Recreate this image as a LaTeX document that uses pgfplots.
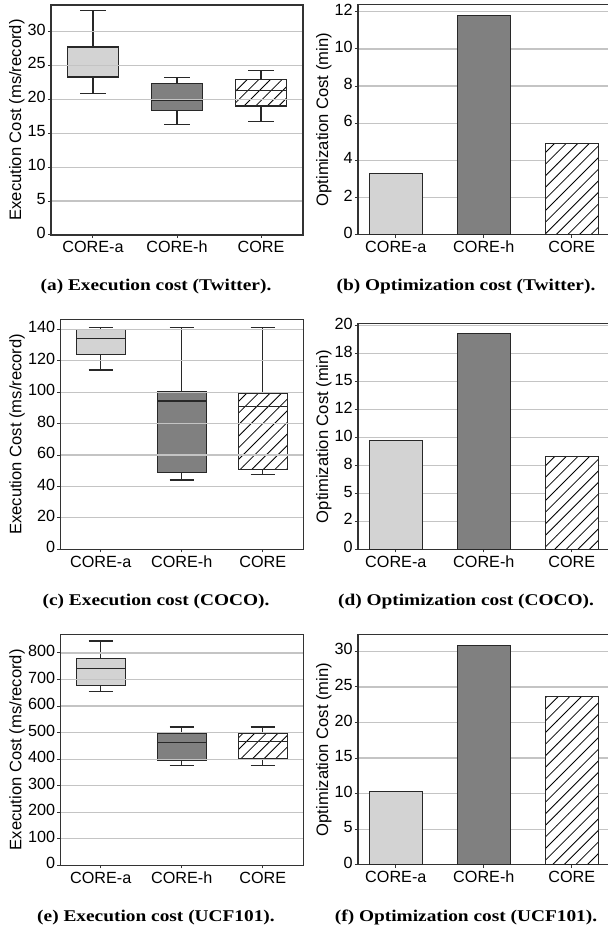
\documentclass[border=0pt]{standalone}
\usepackage{fontspec}
\setmainfont{Liberation Serif}
\newfontfamily\chartfont{Liberation Sans}
\newfontfamily\capfont[FakeStretch=1.18]{Liberation Serif}
\usepackage{pgfplots}
\pgfplotsset{compat=1.18}
\usetikzlibrary{patterns}

\definecolor{axc}{HTML}{333333}
\definecolor{gridc}{HTML}{C4C4C4}
\definecolor{lightfill}{HTML}{D3D3D3}
\definecolor{darkfill}{HTML}{808080}
\definecolor{edgec}{HTML}{282828}

% north-east hatching
\pgfdeclarepatternformonly{widene}{\pgfqpoint{-1pt}{-1pt}}{\pgfqpoint{7pt}{7pt}}{\pgfqpoint{5.8pt}{5.8pt}}{%
  \pgfsetlinewidth{0.4pt}%
  \pgfpathmoveto{\pgfqpoint{0pt}{0pt}}%
  \pgfpathlineto{\pgfqpoint{5.9pt}{5.9pt}}%
  \pgfusepath{stroke}}
\tikzset{hatch/.style={fill=white, postaction={pattern=widene}}}

\pgfplotsset{
  panel/.style={
    scale only axis, anchor=south west, ymin=0,
    /pgf/number format/assume math mode=true,
    ticklabel style={font=\chartfont\fontsize{8.1}{9}\selectfont},
    yticklabel style={xshift=2.5pt},
    xticklabel style={yshift=2.5pt},
    typeset ticklabels with strut,
    ylabel style={font=\chartfont\fontsize{8.3}{9}\selectfont, anchor=center},
    axis line style={draw=axc, line width=0.6pt},
    ymajorgrids, grid style={draw=gridc, line width=0.6pt},
    tick style={draw=axc, line width=0.5pt},
    major tick length=1.6pt, tick align=outside,
    xtick pos=bottom, ytick pos=left,
    xtick={0,1,2}, xticklabels={CORE-a,CORE-h,CORE},
    unbounded coords=jump,
  },
  % box plots: the grid is drawn over the boxes
  boxpanel/.style={panel, axis on top, xmin=-0.5, xmax=2.5, width=121.5pt, height=115pt,
    ylabel={Execution Cost (ms/record)},
    ylabel style={at={(axis description cs:-0.178,0.5)}}},
  barpanel/.style={panel, xmin=-0.43, xmax=2.45, width=126.7pt,
    ylabel={Optimization Cost (min)},
    ylabel style={at={(axis description cs:-0.135,0.5)}}},
  bx/.style={draw=edgec, line width=0.6pt, solid, mark=none},
  br/.style={ybar, bar shift=0pt, bar width=0.6, draw=edgec, line width=0.6pt},
}

\begin{document}
\begin{tikzpicture}
\path[use as bounding box] (0,0) rectangle (304pt,465pt);

% (a) execution cost, Twitter
\begin{axis}[boxpanel, at={(25.5pt,347.5pt)}, width=126pt, ymax=33.9,
  ytick={0,5,...,30}, ylabel style={at={(axis description cs:-0.136,0.5)}}]
% whiskers (lower, upper, caps)
\addplot[bx] coordinates {(0,20.9)(0,23.3) (0,nan) (0,27.7)(0,33.1) (0,nan)
  (-0.15,20.9)(0.15,20.9) (0,nan) (-0.15,33.1)(0.15,33.1)};
\addplot[bx] coordinates {(1,16.3)(1,18.4) (1,nan) (1,22.3)(1,23.2) (1,nan)
  (0.85,16.3)(1.15,16.3) (1,nan) (0.85,23.2)(1.15,23.2)};
\addplot[bx] coordinates {(2,16.7)(2,19.0) (2,nan) (2,22.9)(2,24.3) (2,nan)
  (1.85,16.7)(2.15,16.7) (2,nan) (1.85,24.3)(2.15,24.3)};
% boxes
\addplot[bx, fill=lightfill] coordinates {(-0.3,23.3)(0.3,23.3)(0.3,27.7)(-0.3,27.7)} -- cycle;
\addplot[bx, fill=darkfill] coordinates {(0.7,18.4)(1.3,18.4)(1.3,22.3)(0.7,22.3)} -- cycle;
\addplot[bx, hatch] coordinates {(1.7,19.0)(2.3,19.0)(2.3,22.9)(1.7,22.9)} -- cycle;
% medians
\addplot[bx] coordinates {(-0.3,25.0)(0.3,25.0) (0,nan) (0.7,19.9)(1.3,19.9) (1,nan) (1.7,21.35)(2.3,21.35)};
\end{axis}

% (b) optimization cost, Twitter
\begin{axis}[barpanel, at={(179pt,347.65pt)}, height=115pt, ymax=12.38,
  ytick={0,2,...,12}]
\addplot[br, fill=lightfill] coordinates {(0,3.30)};
\addplot[br, fill=darkfill] coordinates {(1,11.81)};
\addplot[br, hatch] coordinates {(2,4.90)};
\end{axis}

% (c) execution cost, COCO
\begin{axis}[boxpanel, at={(30.15pt,190.35pt)}, ymax=146.4,
  ytick={0,20,...,140}]
\addplot[bx] coordinates {(0,114.1)(0,124.1) (0,nan) (0,140.0)(0,141.0) (0,nan)
  (-0.15,114.1)(0.15,114.1) (0,nan) (-0.15,141.0)(0.15,141.0)};
\addplot[bx] coordinates {(1,44.1)(1,48.8) (1,nan) (1,100.3)(1,141.0) (1,nan)
  (0.85,44.1)(1.15,44.1) (1,nan) (0.85,141.0)(1.15,141.0)};
\addplot[bx] coordinates {(2,47.4)(2,50.7) (2,nan) (2,99.0)(2,141.0) (2,nan)
  (1.85,47.4)(2.15,47.4) (2,nan) (1.85,141.0)(2.15,141.0)};
\addplot[bx, fill=lightfill] coordinates {(-0.3,124.1)(0.3,124.1)(0.3,140.0)(-0.3,140.0)} -- cycle;
\addplot[bx, fill=darkfill] coordinates {(0.7,48.8)(1.3,48.8)(1.3,100.3)(0.7,100.3)} -- cycle;
\addplot[bx, hatch] coordinates {(1.7,50.7)(2.3,50.7)(2.3,99.0)(1.7,99.0)} -- cycle;
\addplot[bx] coordinates {(-0.3,134.3)(0.3,134.3) (0,nan) (0.7,94.4)(1.3,94.4) (1,nan) (1.7,91.0)(2.3,91.0)};
\end{axis}

% (d) optimization cost, COCO
\begin{axis}[barpanel, at={(179pt,190.35pt)}, height=113pt, ymax=20.23,
  ytick={0,2.5,...,20}, yticklabels={0,2,5,8,10,12,15,18,20}]
\addplot[br, fill=lightfill] coordinates {(0,9.76)};
\addplot[br, fill=darkfill] coordinates {(1,19.34)};
\addplot[br, hatch] coordinates {(2,8.29)};
\end{axis}

% (e) execution cost, UCF101
\begin{axis}[boxpanel, at={(30.15pt,32.35pt)}, height=115.5pt, ymax=870.4,
  ytick={0,100,...,800}]
\addplot[bx] coordinates {(0,654)(0,678) (0,nan) (0,778.5)(0,845) (0,nan)
  (-0.15,654)(0.15,654) (0,nan) (-0.15,845)(0.15,845)};
\addplot[bx] coordinates {(1,376.8)(1,395.6) (1,nan) (1,497)(1,521) (1,nan)
  (0.85,376.8)(1.15,376.8) (1,nan) (0.85,521)(1.15,521)};
\addplot[bx] coordinates {(2,377)(2,400.5) (2,nan) (2,497)(2,521) (2,nan)
  (1.85,377)(2.15,377) (2,nan) (1.85,521)(2.15,521)};
\addplot[bx, fill=lightfill] coordinates {(-0.3,678)(0.3,678)(0.3,778.5)(-0.3,778.5)} -- cycle;
\addplot[bx, fill=darkfill] coordinates {(0.7,395.6)(1.3,395.6)(1.3,497)(0.7,497)} -- cycle;
\addplot[bx, hatch] coordinates {(1.7,400.5)(2.3,400.5)(2.3,497)(1.7,497)} -- cycle;
\addplot[bx] coordinates {(-0.3,742)(0.3,742) (0,nan) (0.7,463)(1.3,463) (1,nan) (1.7,467)(2.3,467)};
\end{axis}

% (f) optimization cost, UCF101
\begin{axis}[barpanel, at={(179pt,32.65pt)}, height=115.2pt, ymax=32.4,
  ytick={0,5,...,30}]
\addplot[br, fill=lightfill] coordinates {(0,10.32)};
\addplot[br, fill=darkfill] coordinates {(1,30.8)};
\addplot[br, hatch] coordinates {(2,23.63)};
\end{axis}

% captions
\begin{scope}[every node/.style={anchor=base, inner sep=0pt,
  font=\capfont\bfseries\fontsize{8.2}{9}\selectfont}]
\node at (78pt,319.5pt) {(a) Execution cost (Twitter).};
\node at (233pt,319.5pt) {(b) Optimization cost (Twitter).};
\node at (78pt,162pt) {(c) Execution cost (COCO).};
\node at (233pt,162pt) {(d) Optimization cost (COCO).};
\node at (78pt,4.5pt) {(e) Execution cost (UCF101).};
\node at (233pt,4.5pt) {(f) Optimization cost (UCF101).};
\end{scope}
\end{tikzpicture}
\end{document}
